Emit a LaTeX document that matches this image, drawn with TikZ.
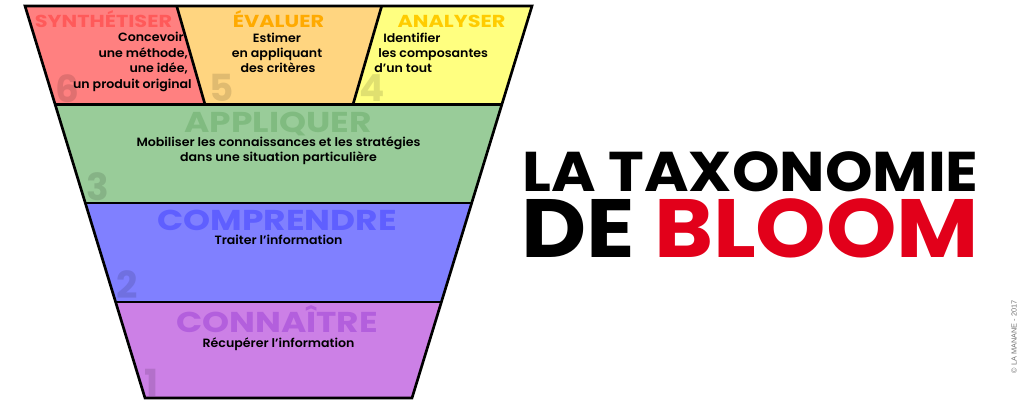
\documentclass[tikz,border=0pt]{standalone}
\usepackage{fontspec}
\setmainfont{Poppins}
\newfontfamily\medfont{Poppins SemiBold}
\newfontfamily\copyfont{Liberation Sans}
\newcommand\xstretch[2]{\scalebox{#1}[1]{#2}}
\newcommand\dtx[1]{\scalebox{1.05}[1]{#1}}
\definecolor{redbg}{HTML}{FF8080}
\definecolor{orangebg}{HTML}{FFD580}
\definecolor{yellowbg}{HTML}{FFFF80}
\definecolor{greenbg}{HTML}{99CC99}
\definecolor{bluebg}{HTML}{8080FF}
\definecolor{purplebg}{HTML}{CC80E6}
\definecolor{redlab}{HTML}{FF5A5A}
\definecolor{orangelab}{HTML}{FFAA00}
\definecolor{yellowlab}{HTML}{FFCC00}
\definecolor{greenlab}{HTML}{80BB80}
\definecolor{bluelab}{HTML}{5F5FFF}
\definecolor{purplelab}{HTML}{B35FDD}
\definecolor{bloomred}{HTML}{E2001A}
\tikzset{
  bandline/.style={draw=black, line width=2pt, line join=miter},
  lvlbig/.style={inner sep=0pt, anchor=base, font=\fontsize{21.5}{21.5}\selectfont\bfseries},
  lvlsmall/.style={inner sep=0pt, anchor=base, font=\fontsize{13}{13}\selectfont\bfseries},
  desc/.style={inner sep=0pt, font=\fontsize{9}{9}\medfont, text=black},
  digit/.style={inner sep=0pt, anchor=base west, font=\fontsize{28}{28}\selectfont\bfseries, text=black, text opacity=0.12},
}
\begin{document}
\begin{tikzpicture}[x=0.75pt,y=-0.75pt]
\useasboundingbox (0,0) rectangle (1024,407);
\fill[white] (0,0) rectangle (1024,407);
% bands
\fill[redbg] (25,6) -- (176.7,6) -- (205,104.5) -- (55.1,104.5) -- cycle;
\fill[orangebg] (176.7,6) -- (381.7,6) -- (353,104.5) -- (205,104.5) -- cycle;
\fill[yellowbg] (381.7,6) -- (532,6) -- (501.9,104.5) -- (353,104.5) -- cycle;
\fill[greenbg] (55.1,104.5) -- (501.9,104.5) -- (471.7,203) -- (85.3,203) -- cycle;
\fill[bluebg] (85.3,203) -- (471.7,203) -- (441.4,302) -- (115.6,302) -- cycle;
\fill[purplebg] (115.6,302) -- (441.4,302) -- (412,398) -- (145,398) -- cycle;
% digits
\node[digit] (d6) at (55,102) {6};
\node[digit] (d5) at (209,101) {5};
\node[digit] (d4) at (359,101) {4};
\node[digit] (d3) at (86,200) {3};
\node[digit] (d2) at (116,298) {2};
\node[digit] (d1) at (144,396) {1};
% outlines
\draw[bandline] (25,6) -- (532,6) -- (412,398) -- (145,398) -- cycle;
\draw[bandline] (55.1,104.5) -- (501.9,104.5);
\draw[bandline] (85.3,203) -- (471.7,203);
\draw[bandline] (115.6,302) -- (441.4,302);
\draw[bandline] (176.7,6) -- (205,104.5);
\draw[bandline] (381.7,6) -- (353,104.5);
% level titles
\node[lvlsmall, text=redlab] (synth) at (103.5,27.3) {\xstretch{1.2}{SYNTHÉTISER}};
\node[lvlsmall, text=orangelab] (eval) at (278.5,27.3) {\xstretch{1.2}{ÉVALUER}};
\node[lvlsmall, text=yellowlab] (anal) at (451.5,27.3) {\xstretch{1.2}{ANALYSER}};
\node[lvlbig, text=greenlab] (appl) at (278,132.5) {\xstretch{1.2}{APPLIQUER}};
\node[lvlbig, text=bluelab] (compr) at (277,230) {\xstretch{1.2}{COMPRENDRE}};
\node[lvlbig, text=purplelab] (conn) at (277,332) {\xstretch{1.2}{CONNAÎTRE}};
% descriptions
\node[desc, anchor=base east] (s1) at (184,41.7) {\dtx{Concevoir}};
\node[desc, anchor=base east] (s2) at (188,57) {\dtx{une méthode,}};
\node[desc, anchor=base east] (s3) at (188,72.5) {\dtx{une idée,}};
\node[desc, anchor=base east] (s4) at (192,88) {\dtx{un produit original}};
\node[desc, anchor=base] (e1) at (277,42) {\dtx{Estimer}};
\node[desc, anchor=base] (e2) at (277,57.3) {\dtx{en appliquant}};
\node[desc, anchor=base] (e3) at (278,72.6) {\dtx{des critères}};
\node[desc, anchor=base west] (a1) at (383,42) {\dtx{Identifier}};
\node[desc, anchor=base west] (a2) at (378,57.3) {\dtx{les composantes}};
\node[desc, anchor=base west] (a3) at (374,72.6) {\dtx{d’un tout}};
\node[desc, anchor=base] (p1) at (278.5,146) {\dtx{Mobiliser les connaissances et les stratégies}};
\node[desc, anchor=base] (p2) at (278.5,161) {\dtx{dans une situation particulière}};
\node[desc, anchor=base] (c1) at (278.5,244) {\dtx{Traiter l’information}};
\node[desc, anchor=base] (k1) at (278.5,347) {\dtx{Récupérer l’information}};
% title
\node[inner sep=0pt, anchor=base west, font=\fontsize{42}{42}\selectfont\bfseries] (t1) at (522,191) {\xstretch{1.08}{LA TAXONOMIE}};
\node[inner sep=0pt, anchor=base west, font=\fontsize{62}{62}\selectfont\bfseries] (t2) at (521,257) {\xstretch{1.085}{DE \textcolor{bloomred}{BLOOM}}};
% copyright
\node[inner sep=0pt, rotate=90, font=\fontsize{5.5}{5.5}\copyfont, text=black!55] (copy) at (1014,337) {© LA MANANE - 2017};
\end{tikzpicture}
\end{document}
